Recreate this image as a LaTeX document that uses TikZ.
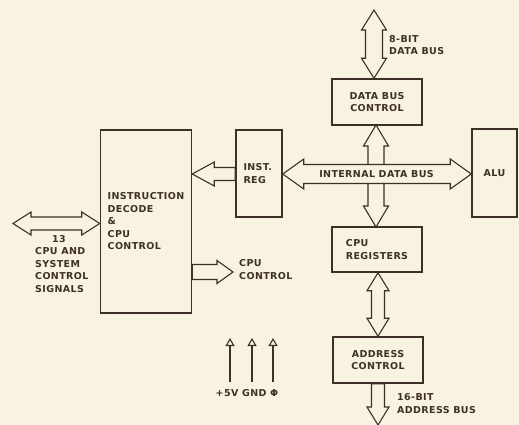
\documentclass[tikz,border=0pt]{standalone}
\usepackage{fontspec}
\setmainfont{DejaVu Sans}[LetterSpace=4]
\usetikzlibrary{calc,arrows.meta}
\definecolor{bg}{RGB}{248,242,224}
\definecolor{ink}{RGB}{62,48,40}
\newcommand\dblarr[5]{%
  \coordinate (p1) at ($(#1)!#5!(#2)$);
  \coordinate (p2) at ($(#2)!#5!(#1)$);
  \draw[arr] (#1) -- ($(p1)!#4!90:(#2)$) -- ($(p1)!#3!90:(#2)$)
    -- ($(p2)!#3!-90:(#1)$) -- ($(p2)!#4!-90:(#1)$) -- (#2)
    -- ($(p2)!#4!90:(#1)$) -- ($(p2)!#3!90:(#1)$)
    -- ($(p1)!#3!-90:(#2)$) -- ($(p1)!#4!-90:(#2)$) -- cycle;}
\newcommand\sglarr[5]{%
  \coordinate (p1) at ($(#2)!#5!(#1)$);
  \draw[arr] ($(#1)!#3!90:(#2)$) -- ($(p1)!#3!-90:(#1)$) -- ($(p1)!#4!-90:(#1)$)
    -- (#2) -- ($(p1)!#4!90:(#1)$) -- ($(p1)!#3!90:(#1)$)
    -- ($(#1)!#3!-90:(#2)$) -- cycle;}
\begin{document}
\begin{tikzpicture}[x=1pt,y=-1pt,
  every node/.style={font=\bfseries\fontsize{9.5}{12.5}\selectfont, text=ink, inner sep=0pt},
  box/.style={draw=ink, line width=1.5pt, fill=bg, align=left},
  arr/.style={draw=ink, line width=1.1pt, fill=bg, line join=miter},
  pwr/.style={draw=ink, line width=1.3pt, -{Triangle[open,length=8pt,width=9pt,line width=1.1pt]}}]
\fill[bg] (0,0) rectangle (519,425);
\useasboundingbox (0,0) rectangle (519,425);
% boxes
\node[box, minimum width=91pt, minimum height=183pt] (dec) at (146,221.5)
  {INSTRUCTION\\DECODE\\\&\\CPU\\CONTROL};
\node[box, minimum width=46pt, minimum height=87pt, text width=31pt] (ireg) at (259,173.5) {INST.\\REG};
\node[box, minimum width=90pt, minimum height=46pt, align=center] (dbc) at (377,102) {DATA BUS\\CONTROL};
\node[box, minimum width=45pt, minimum height=88pt, align=center] (alu) at (494.5,173) {ALU};
\node[box, minimum width=90pt, minimum height=45pt] (creg) at (377,249.5) {CPU\\REGISTERS};
\node[box, minimum width=90pt, minimum height=46pt, align=center] (addr) at (378,360) {ADDRESS\\CONTROL};
% connector end points
\coordinate (dtop) at (374,10);
\coordinate (dbot) at (dbc.north -| dtop);
\coordinate (vtop) at (376,125);
\coordinate (vbot) at (376,227);
\coordinate (hl) at (ireg.east |- 0,174);
\coordinate (hr) at (alu.west |- 0,174);
\coordinate (ia) at (ireg.west |- 0,174);
\coordinate (ib) at (dec.east |- 0,174);
\coordinate (sl) at (13,223.5);
\coordinate (sr) at (dec.west |- 0,223.5);
\coordinate (ca) at (dec.east |- 0,272);
\coordinate (cb) at (233,272);
\coordinate (ra) at (creg.south -| 378,0);
\coordinate (rb) at (addr.north);
\coordinate (aa) at (addr.south);
\coordinate (ab) at (378,425);
% arrows
\dblarr{dtop}{dbot}{8.5pt}{12.5pt}{20pt}
\dblarr{vtop}{vbot}{8pt}{12.5pt}{21pt}
\dblarr{hl}{hr}{9.5pt}{15pt}{21pt}
\sglarr{ia}{ib}{6.5pt}{12pt}{22pt}
\dblarr{sl}{sr}{6.5pt}{11.5pt}{18pt}
\sglarr{ca}{cb}{7.5pt}{11.5pt}{16pt}
\dblarr{ra}{rb}{6.5pt}{11pt}{18pt}
\sglarr{aa}{ab}{6.5pt}{11pt}{18pt}
% power pins
\coordinate (v5a) at (230,382); \coordinate (v5b) at (230,338);
\coordinate (gna) at (252,382); \coordinate (gnb) at (252,338);
\coordinate (pha) at (273,382); \coordinate (phb) at (273,338);
\draw[pwr] (v5a) -- (v5b);
\draw[pwr] (gna) -- (gnb);
\draw[pwr] (pha) -- (phb);
% labels
\node[anchor=west, align=left] (l8) at (389,45) {8-BIT\\DATA BUS};
\node (lint) at (376.5,174) {INTERNAL DATA BUS};
\node[anchor=west, align=left] (lsig) at (35,264) {\hspace*{17pt}13\\CPU AND\\SYSTEM\\CONTROL\\SIGNALS};
\node[anchor=west, align=left] (lcc) at (239,269.5) {CPU\\CONTROL};
\node[anchor=west, align=left] (l16) at (397,403.5) {16-BIT\\ADDRESS BUS};
\node (lpw) at (247,393) {+5V GND Φ};
\end{tikzpicture}
\end{document}
